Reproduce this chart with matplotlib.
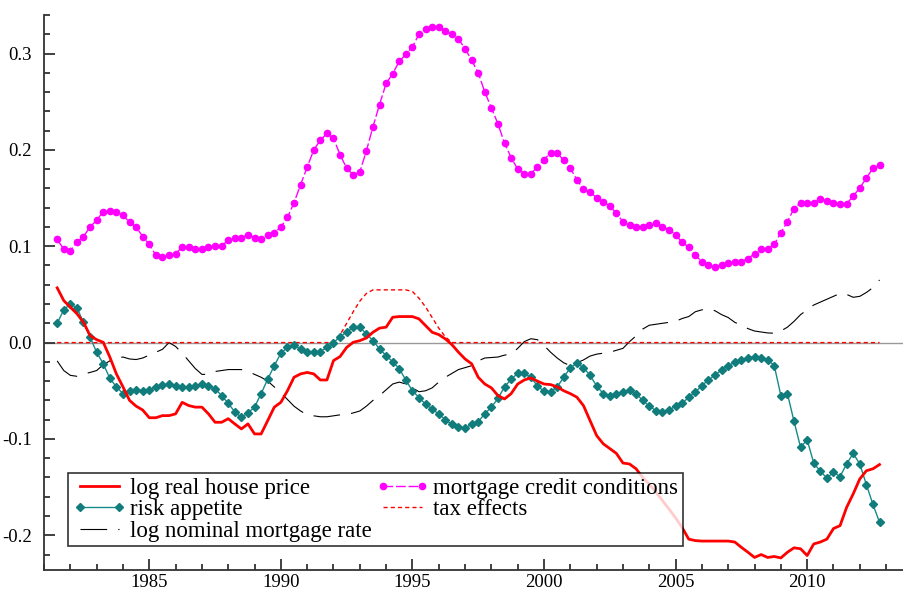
import numpy as np
import matplotlib
matplotlib.use('Agg')
import matplotlib.pyplot as plt
from matplotlib.ticker import MultipleLocator, FormatStrFormatter

plt.rcParams['font.family'] = ['Liberation Serif', 'DejaVu Serif']
plt.rcParams['axes.unicode_minus'] = False

# quarterly data, 1981Q3 .. 2012Q4
quarters = 1981.5 + 0.25 * np.arange(126)

house_price = [0.0568, 0.0436, 0.0367, 0.030, 0.021, 0.0073, 0.003, 0.0003, -0.015, -0.0325,
               -0.046, -0.060, -0.066, -0.070, -0.078, -0.078, -0.0758, -0.0758, -0.074, -0.062,
               -0.0654, -0.067, -0.067, -0.074, -0.0827, -0.0827, -0.079, -0.0844, -0.0896, -0.0844,
               -0.0948, -0.0948, -0.081, -0.067, -0.062, -0.050, -0.036, -0.0325, -0.031, -0.0325,
               -0.0388, -0.0388, -0.0187, -0.0145, -0.005, 0.0003, 0.002, 0.0048, 0.0107, 0.015,
               0.016, 0.0263, 0.027, 0.027, 0.027, 0.0246, 0.0176, 0.0107, 0.0083, 0.0038,
               -0.0021, -0.010, -0.017, -0.022, -0.036, -0.043, -0.047, -0.055, -0.0585, -0.053,
               -0.043, -0.0388, -0.0367, -0.040, -0.043, -0.0436, -0.046, -0.050, -0.053, -0.0567,
               -0.0654, -0.081, -0.0965, -0.105, -0.110, -0.115, -0.125, -0.126, -0.131, -0.140,
               -0.147, -0.155, -0.164, -0.1727, -0.182, -0.192, -0.204, -0.2055, -0.206, -0.206,
               -0.206, -0.206, -0.206, -0.207, -0.2125, -0.2176, -0.223, -0.220, -0.223, -0.222,
               -0.2235, -0.2176, -0.213, -0.214, -0.221, -0.209, -0.207, -0.204, -0.193, -0.190,
               -0.171, -0.157, -0.1415, -0.133, -0.131, -0.1266]

risk_appetite = [0.020, 0.034, 0.040, 0.036, 0.021, 0.0055, -0.010, -0.022, -0.037, -0.046,
                 -0.053, -0.050, -0.049, -0.050, -0.049, -0.046, -0.044, -0.043, -0.045, -0.046,
                 -0.046, -0.045, -0.043, -0.045, -0.048, -0.055, -0.063, -0.072, -0.0775, -0.073,
                 -0.067, -0.053, -0.038, -0.024, -0.011, -0.005, -0.003, -0.0066, -0.0093, -0.010,
                 -0.0093, -0.005, 0.000, 0.006, 0.011, 0.016, 0.016, 0.009, 0.002, -0.0066,
                 -0.0135, -0.020, -0.027, -0.039, -0.050, -0.057, -0.064, -0.069, -0.074, -0.080,
                 -0.085, -0.088, -0.0886, -0.085, -0.082, -0.074, -0.067, -0.058, -0.046, -0.038,
                 -0.032, -0.032, -0.036, -0.045, -0.0505, -0.0515, -0.046, -0.036, -0.026, -0.0215,
                 -0.026, -0.034, -0.045, -0.053, -0.055, -0.053, -0.0515, -0.049, -0.053, -0.060,
                 -0.066, -0.0706, -0.0723, -0.070, -0.066, -0.063, -0.0567, -0.0515, -0.0446, -0.0388,
                 -0.0336, -0.0284, -0.0239, -0.0204, -0.0176, -0.0159, -0.0145, -0.0159, -0.018, -0.0239,
                 -0.055, -0.053, -0.0817, -0.1087, -0.101, -0.125, -0.1336, -0.1405, -0.1346, -0.139,
                 -0.126, -0.115, -0.126, -0.1474, -0.168, -0.1865]

mortgage_rate = [-0.019, -0.029, -0.034, -0.035, -0.0325, -0.031, -0.029, -0.023, -0.019, -0.016,
                 -0.015, -0.017, -0.0176, -0.016, -0.013, -0.010, -0.007, 0.000, -0.004, -0.011,
                 -0.019, -0.027, -0.033, -0.033, -0.030, -0.029, -0.028, -0.028, -0.028, -0.030,
                 -0.033, -0.036, -0.040, -0.046, -0.052, -0.059, -0.066, -0.071, -0.075, -0.076,
                 -0.077, -0.077, -0.076, -0.075, -0.0747, -0.073, -0.071, -0.066, -0.060, -0.055,
                 -0.049, -0.043, -0.041, -0.043, -0.047, -0.051, -0.050, -0.047, -0.041, -0.036,
                 -0.032, -0.028, -0.026, -0.024, -0.019, -0.016, -0.0155, -0.015, -0.013, -0.012,
                 -0.006, 0.001, 0.004, 0.003, -0.003, -0.010, -0.016, -0.021, -0.024, -0.021,
                 -0.018, -0.014, -0.012, -0.011, -0.010, -0.008, -0.006, 0.001, 0.007, 0.014,
                 0.018, 0.019, 0.020, 0.021, 0.022, 0.025, 0.027, 0.032, 0.034, 0.035,
                 0.033, 0.029, 0.026, 0.021, 0.018, 0.0145, 0.012, 0.011, 0.010, 0.0097,
                 0.012, 0.016, 0.022, 0.029, 0.034, 0.039, 0.042, 0.045, 0.048, 0.051,
                 0.050, 0.047, 0.048, 0.052, 0.057, 0.065]

credit_conditions = [0.107, 0.097, 0.0955, 0.104, 0.110, 0.120, 0.127, 0.136, 0.137, 0.136,
                     0.132, 0.125, 0.120, 0.110, 0.102, 0.0906, 0.0886, 0.0906, 0.0924, 0.099,
                     0.099, 0.097, 0.097, 0.099, 0.1007, 0.1007, 0.106, 0.109, 0.109, 0.112,
                     0.109, 0.107, 0.112, 0.114, 0.120, 0.130, 0.145, 0.164, 0.182, 0.200,
                     0.210, 0.217, 0.212, 0.195, 0.181, 0.174, 0.177, 0.199, 0.224, 0.247,
                     0.269, 0.279, 0.292, 0.299, 0.307, 0.320, 0.325, 0.328, 0.328, 0.323,
                     0.320, 0.315, 0.305, 0.293, 0.280, 0.260, 0.2436, 0.227, 0.207, 0.192,
                     0.180, 0.1754, 0.1754, 0.182, 0.190, 0.197, 0.197, 0.189, 0.181, 0.169,
                     0.159, 0.156, 0.1505, 0.1457, 0.142, 0.134, 0.1256, 0.122, 0.120, 0.120,
                     0.122, 0.124, 0.120, 0.117, 0.112, 0.104, 0.099, 0.0906, 0.084, 0.0806,
                     0.0789, 0.0806, 0.0823, 0.084, 0.084, 0.0872, 0.092, 0.097, 0.097, 0.102,
                     0.114, 0.1256, 0.139, 0.145, 0.145, 0.145, 0.149, 0.147, 0.145, 0.144,
                     0.144, 0.152, 0.1606, 0.1706, 0.181, 0.184]

tax_effects = [0.0] * 43 + [0.008, 0.020, 0.032, 0.043, 0.051, 0.0547, 0.0547, 0.0547, 0.0547,
                            0.0547, 0.0547, 0.053, 0.046, 0.037, 0.026, 0.015, 0.006] + [0.0] * 66

fig = plt.figure(figsize=(9.04, 5.92), dpi=100)
ax = fig.add_axes([0.0487, 0.0372, 0.9513, 0.9375])

ax.axhline(0, color='#999999', lw=1.0, zorder=1)

l_house, = ax.plot(quarters, house_price, color='#ff0000', lw=2.0, zorder=4,
                   label='log real house price')
l_risk, = ax.plot(quarters, risk_appetite, color='#168a8a', lw=1.0, marker='D', ms=4.4,
                  mfc='#107c7c', mec='#107c7c', zorder=3, label='risk appetite')
l_rate, = ax.plot(quarters, mortgage_rate, color='black', lw=0.8, ls=(0, (24, 10)), zorder=2,
                  label='log nominal mortgage rate')
l_credit, = ax.plot(quarters, credit_conditions, color='#ff00ff', lw=1.0, ls=(0, (7, 2)),
                    marker='o', ms=4.5, mec='#ff00ff', mfc='#ff00ff', zorder=3,
                    label='mortgage credit conditions')
l_tax, = ax.plot(quarters, tax_effects, color='#ff0000', lw=1.0, ls=(0, (3, 2.2)), zorder=2,
                 label='tax effects')

ax.set_xlim(1981.0, 2013.68)
ax.set_ylim(-0.236, 0.34)

ax.xaxis.set_major_locator(MultipleLocator(5))
ax.xaxis.set_minor_locator(MultipleLocator(1))
ax.yaxis.set_major_locator(MultipleLocator(0.1))
ax.yaxis.set_minor_locator(MultipleLocator(0.02))
ax.yaxis.set_major_formatter(FormatStrFormatter('%.1f'))
ax.tick_params(which='both', direction='in', colors='#333333', labelcolor='black',
               labelsize=13.5, width=1.3)
ax.tick_params(which='major', length=8)
ax.tick_params(which='minor', length=4)
ax.tick_params(axis='y', pad=9)
ax.tick_params(axis='x', pad=3)

for side in ['top', 'right']:
    ax.spines[side].set_visible(False)
for side in ['left', 'bottom']:
    ax.spines[side].set_color('#333333')
    ax.spines[side].set_linewidth(1.3)

leg = ax.legend(handles=[l_house, l_risk, l_rate, l_credit, l_tax], ncol=2,
                loc='lower left', bbox_to_anchor=(0.028, 0.043, 0.715, 0.134), mode='expand',
                fontsize=16.5, frameon=True, fancybox=False, edgecolor='black',
                borderpad=0.2, labelspacing=0.02, handlelength=2.3, handletextpad=0.2,
                columnspacing=1.0, numpoints=2, borderaxespad=0)
leg.get_frame().set_linewidth(1.2)

fig.savefig('out.png', dpi=100)
